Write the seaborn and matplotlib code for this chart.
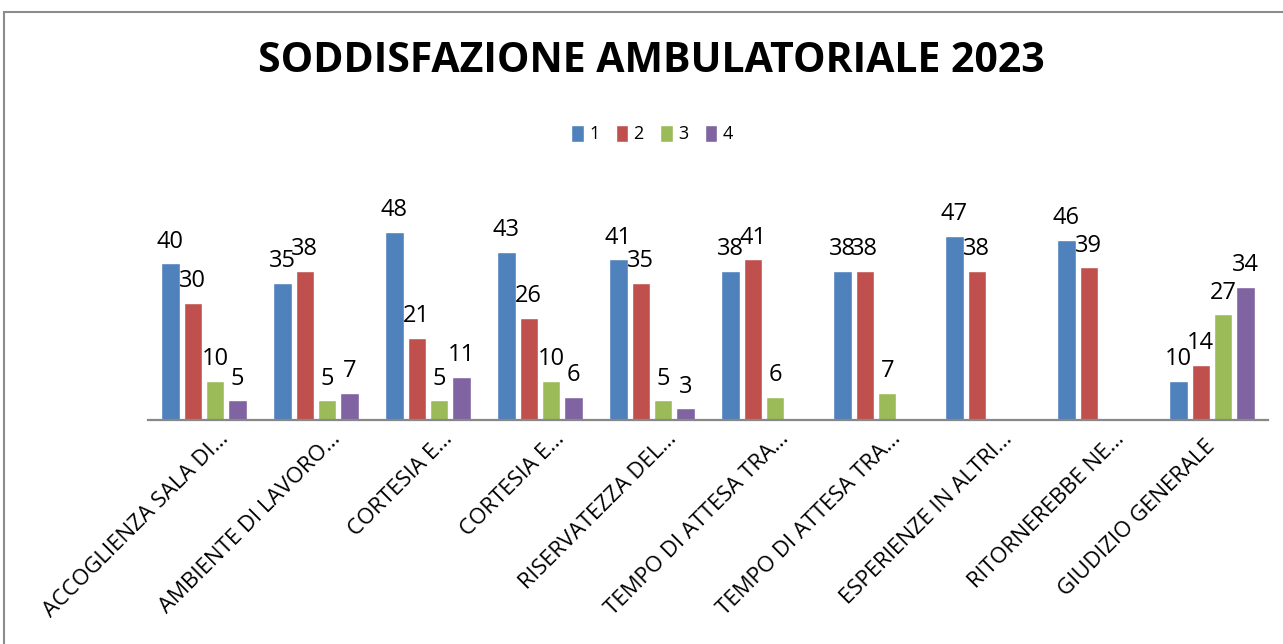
import numpy as np
import pandas as pd
import matplotlib
matplotlib.use("Agg")
import matplotlib.pyplot as plt
import matplotlib.transforms as mtransforms
from matplotlib.patches import Rectangle
import seaborn as sns

# data
categorie = [
    "ACCOGLIENZA SALA DI…",
    "AMBIENTE DI LAVORO…",
    "CORTESIA E…",
    "CORTESIA E…",
    "RISERVATEZZA DEL…",
    "TEMPO DI ATTESA TRA…",
    "TEMPO DI ATTESA TRA…",
    "ESPERIENZE IN ALTRI…",
    "RITORNEREBBE NE…",
    "GIUDIZIO GENERALE",
]
serie = ["1", "2", "3", "4"]
valori_1 = [40, 35, 48, 43, 41, 38, 38, 47, 46, 10]
valori_2 = [30, 38, 21, 26, 35, 41, 38, 38, 39, 14]
valori_3 = [10, 5, 5, 10, 5, 6, 7, None, None, 27]
valori_4 = [5, 7, 11, 6, 3, None, None, None, None, 34]
colori = ["#4F81BD", "#C0504D", "#9BBB59", "#8064A2"]

# unique keys so the two "CORTESIA E…" / "TEMPO DI ATTESA TRA…" stay separate
chiavi = [f"c{i}" for i in range(len(categorie))]
righe = []
for s, vals in zip(serie, [valori_1, valori_2, valori_3, valori_4]):
    for k, v in zip(chiavi, vals):
        righe.append({"cat": k, "serie": s, "valore": np.nan if v is None else v})
df = pd.DataFrame(righe)

sns.set_style("white")
plt.rcParams["font.family"] = ["Open Sans", "DejaVu Sans"]
plt.rcParams["text.color"] = "black"
plt.rcParams["xtick.color"] = "black"

fig = plt.figure(figsize=(12.83, 6.44), dpi=100)
ax = fig.add_axes([148 / 1283, 1 - 420 / 644, 1120 / 1283, 235 / 644])

sns.barplot(data=df, x="cat", y="valore", hue="serie", order=chiavi,
            hue_order=serie, palette=colori, saturation=1, width=0.8,
            gap=0.18, ax=ax, legend=True)

for cont in ax.containers:
    ax.bar_label(cont, fmt="%.0f", padding=7, fontsize=17, color="black")

ax.set_ylim(0, 60)
ax.set_xlim(-0.5, len(categorie) - 0.5)
ax.set_yticks([])
ax.set_xlabel("")
ax.set_ylabel("")
for sp in ["top", "left", "right"]:
    ax.spines[sp].set_visible(False)
ax.spines["bottom"].set_color("#888888")
ax.spines["bottom"].set_linewidth(1.6)
ax.tick_params(axis="x", length=0, pad=6)

ax.set_xticks(range(len(categorie)))
ax.set_xticklabels(categorie, rotation=45, ha="right", va="top",
                   rotation_mode="anchor", fontsize=16, color="black")
for lab in ax.get_xticklabels():
    # truncated labels sit a bit right of the category centre, the full one does not
    if lab.get_text().endswith("…"):
        dx, dy = 14, 0
    else:
        dx, dy = -8, -8
    offset = mtransforms.ScaledTranslation(dx / 100, dy / 100, fig.dpi_scale_trans)
    lab.set_transform(lab.get_transform() + offset)

handles, labels = ax.get_legend_handles_labels()
ax.get_legend().remove()
fig.legend(handles, labels, loc="center", bbox_to_anchor=(652 / 1283, 1 - 134 / 644),
           ncol=4, frameon=False, fontsize=13, handlelength=0.7, handleheight=1.1,
           handletextpad=0.3, columnspacing=0.9, labelcolor="black")

fig.text(651 / 1283, 1 - 62 / 644, "SODDISFAZIONE AMBULATORIALE 2023",
         ha="center", va="center", fontsize=29.5, fontweight="bold", color="black")

# chart frame (top and left edges visible)
fig.patches.append(Rectangle((4 / 1283, -0.1), 1.2, 1.1 - 12 / 644,
                             transform=fig.transFigure, fill=False,
                             edgecolor="#8C8C8C", linewidth=1.5))

fig.savefig("out.png", dpi=100)
